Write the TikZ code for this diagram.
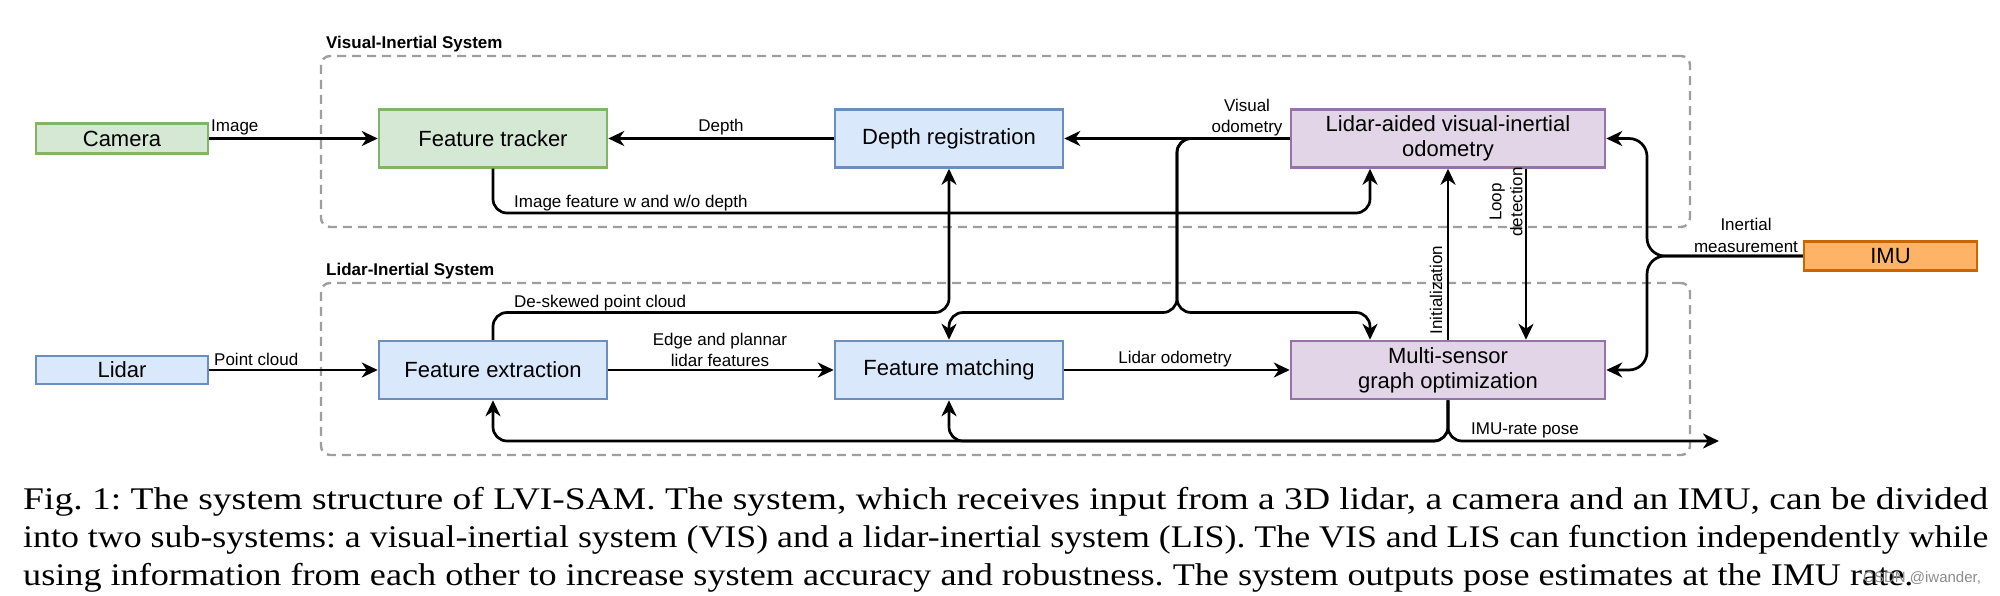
\documentclass[tikz,border=0pt]{standalone}
\usepackage{fontspec}
\usepackage{graphicx}
\setmainfont{Liberation Serif}
\newfontfamily\diagfont{Liberation Sans}
\usetikzlibrary{arrows.meta}
\definecolor{gfill}{HTML}{D5E8D4}\definecolor{gdraw}{HTML}{82B366}
\definecolor{bfill}{HTML}{DAE8FC}\definecolor{bdraw}{HTML}{6C8EBF}
\definecolor{pfill}{HTML}{E1D5E7}\definecolor{pdraw}{HTML}{9673A6}
\definecolor{ofill}{HTML}{FFB366}\definecolor{odraw}{HTML}{CC6600}
\definecolor{grpcol}{HTML}{9E9E9E}
\tikzset{
  blk/.style={draw, line width=2.5pt, inner sep=0pt, align=center, text=black,
    font=\diagfont\fontsize{22}{25}\selectfont},
  gbox/.style={blk, fill=gfill, draw=gdraw},
  bbox/.style={blk, fill=bfill, draw=bdraw},
  pbox/.style={blk, fill=pfill, draw=pdraw},
  obox/.style={blk, fill=ofill, draw=odraw},
  small/.style={minimum width=172pt, minimum height=30pt},
  mid/.style={minimum width=228pt, minimum height=58pt},
  wide/.style={minimum width=314pt, minimum height=58pt},
  grpbox/.style={draw=grpcol, line width=2.4pt, dash pattern=on 9pt off 6pt, rounded corners=9pt, inner sep=0pt},
  grplbl/.style={font=\diagfont\bfseries\fontsize{17}{20}\selectfont, inner sep=0pt},
  lbl/.style={font=\diagfont\fontsize{17}{21}\selectfont, inner sep=0pt, align=center},
  conn/.style={line width=2.7pt, line join=round, -{Stealth[length=16pt,width=15pt,inset=5pt]}},
  rc/.style={rounded corners=14pt},
}
\newcommand\capline[2]{\resizebox{#1}{\height}{\frenchspacing #2}}
\begin{document}
\begin{tikzpicture}[x=1pt,y=-1pt]
\useasboundingbox (0,0) rectangle (2000,596);
% group boxes
\node[grpbox, minimum width=1369pt, minimum height=171pt] (vis) at (1005.5,141.5) {};
\node[grpbox, minimum width=1369pt, minimum height=172pt] (lis) at (1005.5,369) {};
\node[grplbl, anchor=base west] (vislbl) at (326,49) {Visual-Inertial System};
\node[grplbl, anchor=base west] (lislbl) at (326,276) {Lidar-Inertial System};
% blocks
\node[gbox, small] (camera) at (122,138.5) {Camera};
\node[gbox, mid] (feattrack) at (493,138.5) {Feature tracker};
\node[bbox, mid] (depthreg) at (949,138.5) {Depth registration};
\node[pbox, wide] (lvio) at (1448,138.5) {Lidar-aided visual-inertial\\odometry};
\node[obox, minimum width=173pt, minimum height=29pt] (imu) at (1890.5,256) {IMU};
\node[bbox, small, minimum height=28pt] (lidar) at (122,370) {Lidar};
\node[bbox, mid] (featext) at (493,370) {Feature extraction};
\node[bbox, mid] (featmatch) at (949,370) {Feature matching};
\node[pbox, wide] (msgo) at (1448,370) {Multi-sensor\\graph optimization};
\coordinate (poseout) at (1719,441);
% connectors
\draw[conn] (camera.east) -- (feattrack.west);
\draw[conn] (depthreg.west) -- (feattrack.east);
\draw[conn] (lvio.west) -- (depthreg.east);
\draw[conn,rc] (lvio.west) -- (1177,138.5) -- (1177,312.5) -- (949,312.5) -- (featmatch.north);
\draw[conn,rc] (lvio.west) -- (1177,138.5) -- (1177,312.5) -- (1370,312.5) -- (1370,0 |- msgo.north);
\draw[conn,rc] (feattrack.south) -- (493,213) -- (1370,213) -- (1370,0 |- lvio.south);
\draw[conn,rc] (featext.north) -- (493,312.5) -- (949,312.5) -- (depthreg.south);
\draw[conn] (lidar.east) -- (featext.west);
\draw[conn] (featext.east) -- (featmatch.west);
\draw[conn] (featmatch.east) -- (msgo.west);
\draw[conn] (msgo.north) -- (lvio.south);
\draw[conn] (1526,0 |- lvio.south) -- (1526,0 |- msgo.north);
\draw[conn,rounded corners=18pt] (imu.west) -- (1647,256) -- (1647,138.5) -- (lvio.east);
\draw[conn,rounded corners=18pt] (imu.west) -- (1647,256) -- (1647,370) -- (msgo.east);
\draw[conn,rc] (msgo.south) -- (1448,441) -- (poseout);
\draw[conn,rc] (msgo.south) -- (1448,441) -- (949,441) -- (featmatch.south);
\draw[conn,rc] (msgo.south) -- (1448,441) -- (493,441) -- (featext.south);
% labels
\node[lbl, anchor=base west] (limage) at (211,132) {Image};
\node[lbl, anchor=base] (ldepth) at (721,132) {Depth};
\node[lbl, anchor=base] (lvo) at (1247,133) {Visual\\odometry};
\node[lbl, anchor=base west] (limf) at (514,208) {Image feature w and w/o depth};
\node[lbl, anchor=base west] (ldesk) at (514,307) {De-skewed point cloud};
\node[lbl, anchor=base west] (lpc) at (214,365) {Point cloud};
\node[lbl, anchor=base] (ledge) at (720,366) {Edge and plannar\\lidar features};
\node[lbl, anchor=base] (llo) at (1175,363) {Lidar odometry};
\node[lbl, anchor=base] (linert) at (1746,252) {Inertial\\measurement};
\node[lbl, anchor=base west] (lpose) at (1471,434) {IMU-rate pose};
\node[lbl, rotate=90] (linit) at (1436,290) {Initialization};
\node[lbl, rotate=90] (lloop) at (1506,202) {Loop\\detection};
% caption
\node[inner sep=0pt, anchor=base west, align=left, font=\fontsize{31.5}{38}\selectfont] (caption) at (23,585) {\capline{1965pt}{Fig. 1: The system structure of LVI-SAM. The system, which receives input from a 3D lidar, a camera and an IMU, can be divided}\\\capline{1965pt}{into two sub-systems: a visual-inertial system (VIS) and a lidar-inertial system (LIS). The VIS and LIS can function independently while}\\\capline{1890pt}{using information from each other to increase system accuracy and robustness. The system outputs pose estimates at the IMU rate.}};
\node[inner sep=0pt, anchor=west, text=black!45, font=\diagfont\fontsize{15}{18}\selectfont] (wm) at (1863,578) {CSDN @iwander,};
\end{tikzpicture}
\end{document}
